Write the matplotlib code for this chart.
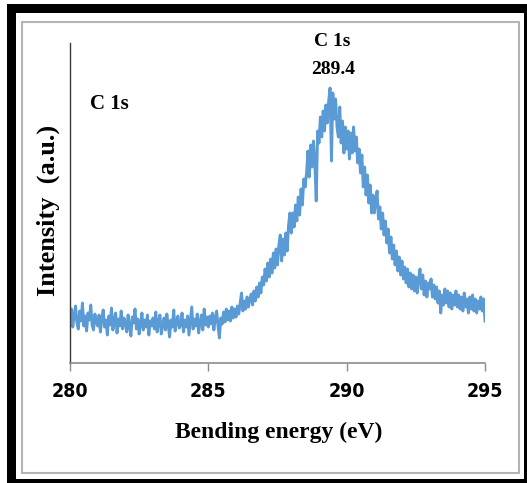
import numpy as np
import matplotlib
matplotlib.use("Agg")
import matplotlib.pyplot as plt
from matplotlib import font_manager
from matplotlib.patches import Rectangle

# XPS C 1s spectrum, binding energy 280-295 eV in 0.05 eV steps
energy_start = 280.0
energy_step = 0.05
intensity = [
    # 280
    45, 54, 36, 48, 57, 40, 34, 52, 42, 60, 37, 47, 32, 50, 43, 58, 38, 33, 49, 41,
    # 281
    37, 48, 31, 45, 53, 36, 43, 28, 47, 38, 55, 33, 42, 50, 30, 44, 37, 52, 34, 45,
    # 282
    40, 31, 48, 37, 27, 46, 40, 54, 34, 44, 29, 39, 50, 33, 43, 36, 48, 28, 42, 37,
    # 283
    45, 34, 51, 31, 41, 48, 29, 38, 45, 33, 49, 38, 26, 43, 36, 53, 32, 41, 47, 35,
    # 284
    38, 50, 31, 43, 36, 47, 28, 42, 56, 34, 44, 37, 49, 30, 41, 48, 33, 54, 38, 46,
    # 285
    36, 47, 39, 50, 33, 45, 52, 37, 25, 45, 39, 51, 41, 54, 43, 52, 42, 56, 45, 54,
    # 286
    46, 57, 49, 60, 70, 52, 62, 54, 66, 56, 64, 69, 58, 72, 62, 76, 66, 80, 70, 86,
    # 287
    78, 94, 82, 100, 86, 104, 90, 110, 95, 114, 98, 118, 128, 102, 124, 108, 130, 112, 138, 150,
    # 288
    130, 150, 136, 158, 142, 166, 148, 174, 158, 184, 176, 190, 212, 186, 218, 196, 222, 200, 162, 232,
    # 289
    220, 246, 226, 252, 232, 258, 240, 262, 275, 202, 270, 244, 264, 236, 226, 256, 220, 242, 210, 236,
    # 290
    214, 232, 204, 230, 210, 236, 212, 226, 200, 214, 190, 208, 176, 196, 168, 188, 160, 178, 150, 168,
    # 291
    150, 162, 172, 144, 156, 134, 150, 128, 142, 120, 134, 110, 126, 104, 118, 98, 112, 92, 106, 88,
    # 292
    102, 84, 96, 80, 94, 76, 90, 74, 88, 72, 86, 70, 84, 94, 74, 88, 68, 82, 66, 80,
    # 293
    74, 84, 66, 78, 64, 76, 60, 72, 50, 68, 58, 74, 60, 72, 56, 70, 54, 68, 58, 72,
    # 294
    56, 68, 54, 66, 52, 70, 56, 64, 50, 66, 54, 68, 52, 64, 50, 62, 54, 66, 52, 64,
    # 295
    42,
]
energy = energy_start + energy_step * np.arange(len(intensity))

x_ticks = [280, 285, 290, 295]
x_label = "Bending energy (eV)"
y_label = "Intensity  (a.u.)"
peak_name = "C 1s"
peak_position = 289.4
panel_title = "C 1s"

line_color = "#5B9BD5"

available = {f.name for f in font_manager.fontManager.ttflist}
if "Liberation Sans Narrow" in available:
    tick_font = dict(family="Liberation Sans Narrow", weight="bold")
else:
    tick_font = dict(family="DejaVu Sans", weight="bold", stretch="condensed")
serif = ["Liberation Serif", "DejaVu Serif"]

W, H = 527, 483
fig = plt.figure(figsize=(W / 100, H / 100), dpi=100)
fig.patch.set_facecolor("white")


def px_rect(x0, y0, x1, y1, **kw):
    """Rectangle given in pixel coordinates measured from the top-left."""
    return Rectangle((x0 / W, 1 - y1 / H), (x1 - x0) / W, (y1 - y0) / H,
                     transform=fig.transFigure, **kw)


# thick black outer frame
for r in [(7, 4, 531, 13), (7, 4, 16, 490), (7, 479, 531, 490), (524, 4, 531, 490)]:
    fig.patches.append(px_rect(*r, facecolor="black", edgecolor="none"))
# thin grey inner frame
fig.patches.append(px_rect(22, 22, 519, 473, facecolor="none",
                           edgecolor="#b4b4b4", linewidth=1.5))

ax = fig.add_axes([70 / W, 1 - 363 / H, 415 / W, 320 / H])
ax.plot(energy, intensity, color=line_color, linewidth=2.1)

ax.set_xlim(280, 295)
ax.set_ylim(0, 320)
ax.set_xticks(x_ticks)
ax.set_xticklabels([str(t) for t in x_ticks], fontsize=14, **tick_font)
ax.set_yticks([])
ax.tick_params(axis="x", direction="out", length=6, width=1.0,
               color="#8c8c8c", pad=8)

for side in ("top", "right"):
    ax.spines[side].set_visible(False)
ax.spines["left"].set_color("#3a3a3a")
ax.spines["left"].set_linewidth(1.0)
ax.spines["bottom"].set_color("#8c8c8c")
ax.spines["bottom"].set_linewidth(1.2)

ax.set_xlabel(x_label, fontsize=17, fontweight="bold", family=serif)
ax.xaxis.label.set_va("center")
ax.xaxis.set_label_coords(0.504, -0.216)
ax.set_ylabel(y_label, fontsize=19, fontweight="bold", family=serif)
ax.yaxis.label.set_va("center")
ax.yaxis.set_label_coords(-0.053, 0.478)

peak_value = max(intensity)
ax.text(peak_position + 0.07, 321, peak_name, ha="center", va="center",
        fontsize=14, fontweight="bold", family=serif, clip_on=False)
ax.text(peak_position + 0.12, peak_value + 18, f"{peak_position}", ha="center",
        va="center", fontsize=14, fontweight="bold", family=serif, clip_on=False)
ax.text(281.41, 259, panel_title, ha="center", va="center",
        fontsize=15, fontweight="bold", family=serif)

fig.savefig("out.png", dpi=100, facecolor="white")
